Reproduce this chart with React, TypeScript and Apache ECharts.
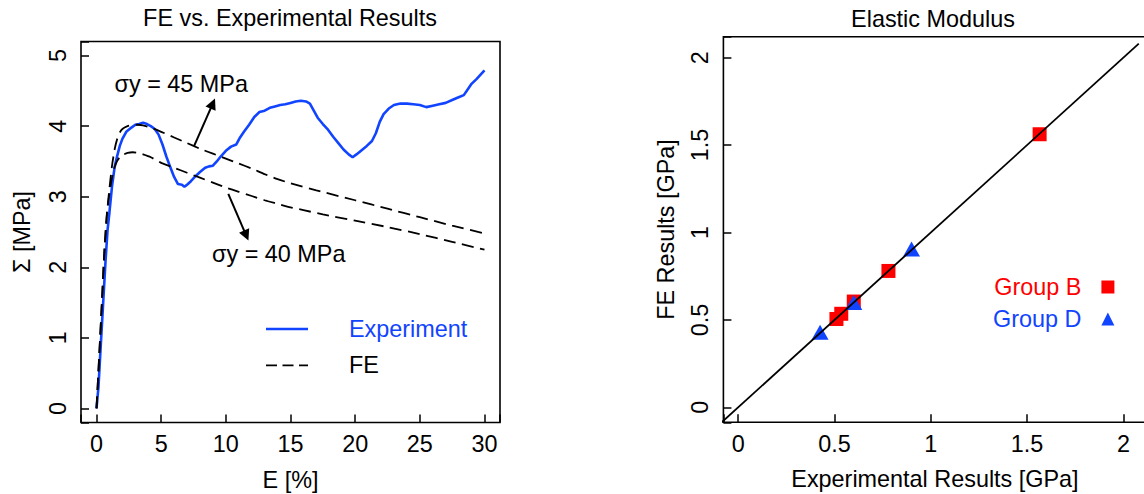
import React, { useEffect, useRef } from "react";
import * as echarts from "echarts";

const FONT = '"Liberation Sans", Arial, Helvetica, sans-serif';
const FS = 23.4;
const BLUE = "#1144ff";
const RED = "#ff0000";

// Left panel: experiment curve
const expStrain = [0, 0.15, 0.3, 0.5, 0.7, 0.85, 1.0, 1.2, 1.4, 1.6, 1.8, 2.0, 2.3, 2.7, 3.0, 3.3, 3.6, 3.9, 4.2, 4.5, 4.8, 5.1, 5.4, 5.7, 6.0, 6.3, 6.6, 6.8, 7.0, 7.3, 7.6, 8.0, 8.4, 8.7, 9.0, 9.3, 9.6, 10.0, 10.4, 10.8, 11.1, 11.4, 11.8, 12.2, 12.6, 13.0, 13.4, 13.8, 14.2, 14.6, 15.0, 15.4, 15.8, 16.2, 16.5, 16.8, 17.1, 17.5, 17.9, 18.3, 18.7, 19.1, 19.5, 19.8, 20.1, 20.5, 20.9, 21.3, 21.6, 21.9, 22.2, 22.6, 23.0, 23.5, 24.0, 24.5, 25.0, 25.5, 26.0, 26.5, 27.0, 27.5, 28.0, 28.4, 28.7, 29.0, 29.4, 29.7, 30.0];
const expStress = [0, 0.3, 0.8, 1.45, 2.1, 2.52, 2.78, 3.15, 3.42, 3.58, 3.72, 3.82, 3.92, 3.98, 4.02, 4.03, 4.05, 4.03, 4.0, 3.96, 3.88, 3.74, 3.57, 3.42, 3.28, 3.18, 3.17, 3.14, 3.17, 3.22, 3.28, 3.35, 3.41, 3.43, 3.44, 3.5, 3.57, 3.65, 3.71, 3.74, 3.84, 3.92, 4.02, 4.13, 4.2, 4.22, 4.26, 4.28, 4.3, 4.31, 4.33, 4.35, 4.36, 4.35, 4.32, 4.22, 4.12, 4.03, 3.95, 3.85, 3.76, 3.67, 3.6, 3.56, 3.6, 3.66, 3.72, 3.79, 3.9, 4.06, 4.17, 4.25, 4.3, 4.32, 4.32, 4.31, 4.3, 4.27, 4.29, 4.31, 4.33, 4.37, 4.41, 4.44, 4.52, 4.6, 4.67, 4.73, 4.79];

// Left panel: FE curves
const fe45Strain = [0, 0.2, 0.4, 0.6, 0.8, 1.0, 1.2, 1.4, 1.6, 1.8, 2.0, 2.4, 2.8, 3.2, 3.6, 4.2, 5, 6, 7, 8, 9, 10, 11, 12, 13, 14, 15, 17, 20, 22.5, 25, 27.5, 30];
const fe45Stress = [0, 0.72, 1.45, 2.2, 2.75, 3.12, 3.44, 3.67, 3.82, 3.91, 3.96, 4.0, 4.02, 4.02, 4.01, 3.98, 3.92, 3.84, 3.76, 3.68, 3.61, 3.54, 3.47, 3.40, 3.32, 3.25, 3.19, 3.09, 2.95, 2.83, 2.71, 2.59, 2.48];
const fe40Strain = [0, 0.2, 0.4, 0.6, 0.8, 1.0, 1.2, 1.4, 1.6, 1.8, 2.0, 2.4, 2.8, 3.2, 3.6, 4.2, 5, 6, 7, 8, 9, 10, 11, 12, 13, 14, 15, 16, 17.5, 20, 22.5, 25, 27.5, 30];
const fe40Stress = [0, 0.72, 1.45, 2.2, 2.75, 3.05, 3.27, 3.42, 3.51, 3.56, 3.59, 3.62, 3.63, 3.62, 3.6, 3.56, 3.48, 3.41, 3.34, 3.27, 3.2, 3.13, 3.07, 3.01, 2.95, 2.9, 2.85, 2.81, 2.75, 2.66, 2.57, 2.47, 2.36, 2.25];

// Annotation arrows (data coordinates)
const arrow45From = [7.55, 3.72];
const arrow45To = [8.99, 4.32];
const arrow40From = [10.19, 3.04];
const arrow40To = [11.58, 2.45];

// Right panel: elastic modulus
const groupBExp = [0.51, 0.535, 0.6, 0.78, 1.565];
const groupBFE = [0.505, 0.535, 0.605, 0.78, 1.562];
const groupDExp = [0.425, 0.6, 0.9];
const groupDFE = [0.43, 0.6, 0.905];
const identityLine = [-0.1, 2.08];

const pairs = (xs: number[], ys: number[]) => xs.map((x, i) => [x, ys[i]]);

const multipleOf = (step: number) => (v: number) => {
  const r = v / step;
  return Math.abs(r - Math.round(r)) < 1e-6 ? String(Math.round(r * step * 1000) / 1000) : "";
};

const axisCommon = (step: number, margin: number, rotate: number) => ({
  axisLine: { show: false, onZero: false },
  splitLine: { show: false },
  axisTick: { show: true, inside: true, length: 8, lineStyle: { color: "#000", width: 1.5 } },
  axisLabel: { color: "#000", fontSize: FS, fontFamily: FONT, formatter: multipleOf(step), margin, rotate },
  nameTextStyle: { color: "#000", fontSize: FS, fontFamily: FONT },
  nameLocation: "middle",
});

const gridCommon = {
  show: true,
  borderColor: "#000",
  borderWidth: 1.6,
  backgroundColor: "transparent",
  containLabel: false,
  outerBoundsMode: "none",
};

const textEl = (x: number, y: number, text: string, align: string) => ({
  type: "text",
  x,
  y,
  silent: true,
  style: {
    text,
    fill: "#000",
    font: `${FS}px ${FONT}`,
    fontSize: FS,
    fontFamily: FONT,
    align,
    textAlign: align,
    verticalAlign: "middle",
    textVerticalAlign: "middle",
  },
});

const SOLID_ICON = "path://M0,0H42V2.6H0Z";
const DASH_ICON = "path://M0,0H11V1.8H0Z M16.5,0H27.5V1.8H16.5Z M33,0H42V1.8H33Z";

export default function App() {
  const ref = useRef<HTMLDivElement>(null);
  useEffect(() => {
    if (!ref.current) return;
    const chart = echarts.init(ref.current, null, { renderer: "svg" });
    const option: any = {
      animation: false,
      backgroundColor: "#fff",
      textStyle: { fontFamily: FONT },
      grid: [
        { ...gridCommon, left: 81, top: 41.5, width: 419, height: 381 },
        { ...gridCommon, left: 723.4, top: 36.7, width: 423.1, height: 385.6 },
      ],
      xAxis: [
        {
          type: "value", gridIndex: 0, min: -1.2, max: 31.2, splitNumber: 7,
          ...axisCommon(5, 10, 0), name: "E [%]", nameGap: 46,
        },
        {
          type: "value", gridIndex: 1, min: -0.077, max: 2.12, splitNumber: 5,
          ...axisCommon(0.5, 10, 0), name: "Experimental Results [GPa]", nameGap: 45.5,
        },
      ],
      yAxis: [
        {
          type: "value", gridIndex: 0, min: -0.2, max: 5.2, splitNumber: 6,
          ...axisCommon(1, 11.5, 90), name: "Σ [MPa]", nameGap: 48,
        },
        {
          type: "value", gridIndex: 1, min: -0.0858, max: 2.12, splitNumber: 5,
          ...axisCommon(0.5, 11.5, 90), name: "FE Results [GPa]", nameGap: 45.5,
        },
      ],
      legend: [
        {
          data: [
            { name: "Experiment", icon: SOLID_ICON, textStyle: { color: BLUE } },
            { name: "FE", icon: DASH_ICON, textStyle: { color: "#000" } },
          ],
          orient: "vertical",
          left: 266,
          top: 317,
          padding: 0,
          itemWidth: 42,
          itemHeight: 14,
          itemGap: 12.4,
          selectedMode: false,
          textStyle: { fontSize: FS, fontFamily: FONT, lineHeight: 24, padding: [0, 0, 0, 36] },
        },
        {
          data: [
            { name: "Group B", icon: "rect", textStyle: { color: RED } },
            { name: "Group D", icon: "triangle", textStyle: { color: BLUE } },
          ],
          orient: "vertical",
          align: "right",
          left: 993,
          top: 275,
          padding: 0,
          itemWidth: 13,
          itemHeight: 13,
          itemGap: 8,
          selectedMode: false,
          textStyle: { fontSize: FS, fontFamily: FONT, lineHeight: 24, padding: [0, 15, 0, 0] },
        },
      ],
      graphic: [
        textEl(290, 18, "FE vs. Experimental Results", "center"),
        textEl(933, 19, "Elastic Modulus", "center"),
        textEl(114.5, 84, "σy = 45 MPa", "left"),
        textEl(212, 254, "σy = 40 MPa", "left"),
      ],
      series: [
        {
          name: "Experiment",
          type: "line",
          xAxisIndex: 0,
          yAxisIndex: 0,
          data: pairs(expStrain, expStress),
          symbol: "none",
          color: BLUE,
          lineStyle: { color: BLUE, width: 2.6 },
          silent: true,
        },
        {
          name: "FE",
          type: "line",
          xAxisIndex: 0,
          yAxisIndex: 0,
          data: pairs(fe45Strain, fe45Stress),
          symbol: "none",
          smooth: 0.2,
          color: "#000",
          lineStyle: { color: "#000", width: 1.8, type: [12, 6.5] },
          silent: true,
          markLine: {
            silent: true,
            symbol: ["none", "triangle"],
            symbolSize: 11,
            label: { show: false },
            emphasis: { disabled: true },
            lineStyle: { type: "solid", color: "#000", width: 2 },
            data: [
              [{ coord: arrow45From }, { coord: arrow45To }],
              [{ coord: arrow40From }, { coord: arrow40To }],
            ],
          },
        },
        {
          name: "FE",
          type: "line",
          xAxisIndex: 0,
          yAxisIndex: 0,
          data: pairs(fe40Strain, fe40Stress),
          symbol: "none",
          smooth: 0.2,
          color: "#000",
          lineStyle: { color: "#000", width: 1.8, type: [12, 6.5] },
          silent: true,
        },
        {
          name: "Group B",
          type: "scatter",
          xAxisIndex: 1,
          yAxisIndex: 1,
          data: pairs(groupBExp, groupBFE),
          symbol: "rect",
          symbolSize: 14,
          itemStyle: { color: RED, opacity: 1 },
          silent: true,
        },
        {
          name: "Group D",
          type: "scatter",
          xAxisIndex: 1,
          yAxisIndex: 1,
          data: pairs(groupDExp, groupDFE),
          symbol: "triangle",
          symbolSize: [17, 15],
          itemStyle: { color: BLUE, opacity: 1 },
          silent: true,
        },
        {
          type: "line",
          xAxisIndex: 1,
          yAxisIndex: 1,
          data: pairs(identityLine, identityLine),
          symbol: "none",
          lineStyle: { color: "#000", width: 1.8 },
          z: 5,
          silent: true,
        },
      ],
    };
    chart.setOption(option);
    return () => chart.dispose();
  }, []);
  return (
    <div
      style={{
        position: "fixed",
        left: 0,
        top: 0,
        width: 1144,
        height: 494,
        overflow: "hidden",
        background: "#fff",
      }}
    >
      <div ref={ref} style={{ width: 1150, height: 494 }} />
    </div>
  );
}
